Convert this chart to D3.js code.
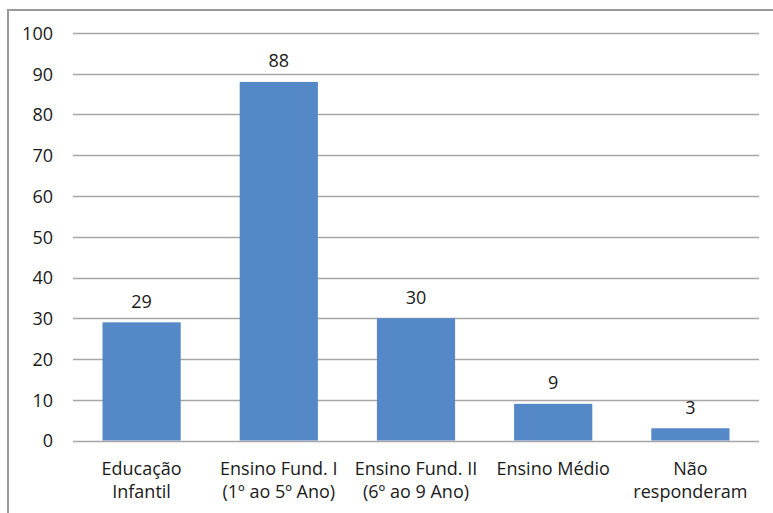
<!DOCTYPE html>
<html>
<head>
<meta charset="utf-8">
<script src="https://cdn.jsdelivr.net/npm/d3@7"></script>
<style>
  html, body { margin: 0; padding: 0; background: #fff; }
  svg { display: block; }
  text { font-family: "Open Sans", "DejaVu Sans", sans-serif; fill: #1a1a1a; }
</style>
</head>
<body>
<script>
const categories = [
  ["Educação", "Infantil"],
  ["Ensino Fund. I", "(1º ao 5º Ano)"],
  ["Ensino Fund. II", "(6º ao 9 Ano)"],
  ["Ensino Médio"],
  ["Não", "responderam"]
];
const values = [29, 88, 30, 9, 3];
const yTicks = [0, 10, 20, 30, 40, 50, 60, 70, 80, 90, 100];

(function () {
const W = 773, H = 513;
const FS = 18;
const svg = d3.select("body").append("svg").attr("width", W).attr("height", H);

// outer border
svg.append("rect")
  .attr("x", 8).attr("y", 10).attr("width", 900).attr("height", 700)
  .attr("fill", "none").attr("stroke", "#9a9a9a").attr("stroke-width", 2);

const pLeft = 73, pRight = 759, pTop = 33, pBottom = 440.5;
const keys = categories.map((c, i) => i);
const x = d3.scaleBand().domain(keys).range([pLeft, pRight]).paddingInner(0.43).paddingOuter(0.215);
const y = d3.scaleLinear().domain([0, 100]).range([pBottom, pTop]);

// gridlines
svg.append("g").selectAll("line").data(yTicks).join("line")
  .attr("x1", pLeft).attr("x2", pRight)
  .attr("y1", d => Math.round(y(d)) + 0.5).attr("y2", d => Math.round(y(d)) + 0.5)
  .attr("stroke", "#a6a6a6").attr("stroke-width", 1.3);

// y axis labels
const yAxis = d3.axisLeft(y).tickValues(yTicks).tickSize(0).tickPadding(0);
const ga = svg.append("g").attr("transform", `translate(53,0)`).call(yAxis);
ga.select(".domain").remove();
ga.selectAll("text").attr("font-size", FS).attr("fill", "#1a1a1a")
  .style("font-family", '"Open Sans", sans-serif').attr("dy", "0.35em").attr("x", 0);

// bars
svg.append("g").selectAll("rect").data(values).join("rect")
  .attr("x", (d, i) => x(i)).attr("width", x.bandwidth())
  .attr("y", d => y(d)).attr("height", d => y(0) - y(d))
  .attr("fill", "#5588c6");

// value labels
svg.append("g").selectAll("text").data(values).join("text")
  .attr("x", (d, i) => x(i) + x.bandwidth() / 2)
  .attr("y", d => y(d) - 14.5)
  .attr("text-anchor", "middle").attr("font-size", FS)
  .text(d => d);

// category labels
const cat = svg.append("g").selectAll("text").data(categories).join("text")
  .attr("x", (d, i) => x(i) + x.bandwidth() / 2)
  .attr("y", 475)
  .attr("text-anchor", "middle").attr("font-size", FS);
cat.selectAll("tspan").data(d => d).join("tspan")
  .attr("x", function() { return d3.select(this.parentNode).attr("x"); })
  .attr("dy", (d, j) => j === 0 ? 0 : 23)
  .text(d => d);
})();
</script>
</body>
</html>
